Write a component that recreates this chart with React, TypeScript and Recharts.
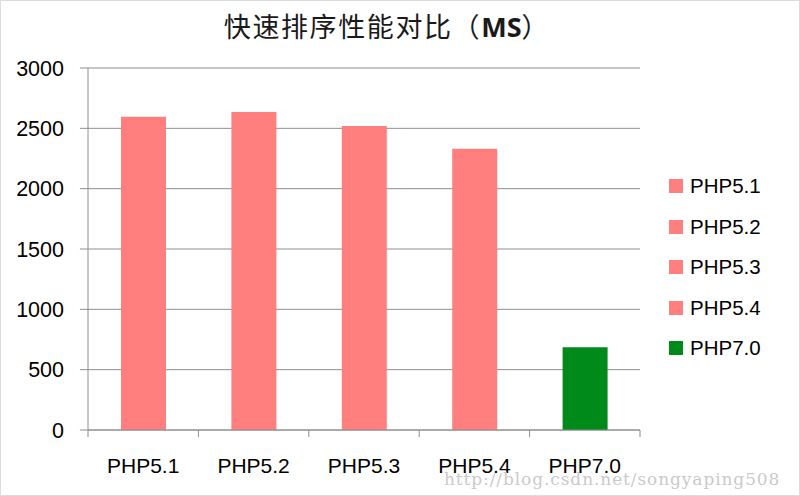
import React from 'react';
import { BarChart, Bar, XAxis, YAxis, CartesianGrid, Legend } from 'recharts';

const categories = ['PHP5.1', 'PHP5.2', 'PHP5.3', 'PHP5.4', 'PHP7.0'];
const values = [2595, 2635, 2520, 2330, 685];
const colors = ['#ff7f7f', '#ff7f7f', '#ff7f7f', '#ff7f7f', '#008a19'];
const yTicks = [0, 500, 1000, 1500, 2000, 2500, 3000];
const title = '快速排序性能对比（';
const titleUnit = 'MS';
const watermark = 'http://blog.csdn.net/songyaping508';

const data = categories.map((c, i) => ({ name: c, [c]: values[i] }));

const FONT = '"Liberation Sans", Arial, sans-serif';
const GRID = '#8e8e8e';

const XTick = (props: any) => {
  const { x, y, payload, width, visibleTicksCount, index } = props;
  const half = width / visibleTicksCount / 2;
  return (
    <g>
      <line x1={x - half} x2={x - half} y1={y} y2={y + 7} stroke={GRID} strokeWidth={1} />
      {index === visibleTicksCount - 1 && (
        <line x1={x + half} x2={x + half} y1={y} y2={y + 7} stroke={GRID} strokeWidth={1} />
      )}
      <text x={x} y={y + 43} textAnchor="middle" fontSize={21} fontFamily={FONT} fill="#000">
        {payload.value}
      </text>
    </g>
  );
};

const LegendContent = (props: any) => {
  const { payload } = props;
  return (
    <div style={{ fontFamily: FONT, fontSize: 20.5, color: '#000' }}>
      {payload.map((p: any) => (
        <div key={p.value} style={{ display: 'flex', alignItems: 'center', height: 40.5 }}>
          <span style={{ display: 'inline-block', width: 14, height: 14, background: p.color, marginRight: 7 }} />
          <span>{p.value}</span>
        </div>
      ))}
    </div>
  );
};

export default function App() {
  return (
    <div style={{ position: 'absolute', left: 0, top: 0, width: 800, height: 496, background: '#fff', overflow: 'hidden' }}>
      <div style={{ position: 'absolute', left: 0, top: 0, width: 798, height: 494, border: '1px solid #dcdcdc' }} />
      <div
        style={{
          position: 'absolute',
          left: 0,
          top: 8,
          width: 774,
          textAlign: 'center',
          fontFamily: '"Noto Sans CJK SC", sans-serif',
          fontSize: 27,
          letterSpacing: 1.6,
          color: '#1a1a1a',
          lineHeight: '36px',
        }}
      >
        {title}
        <span style={{ fontWeight: 'bold', fontFamily: '"Open Sans", sans-serif', letterSpacing: 0 }}>{titleUnit}</span>
        {'）'}
      </div>
      <div style={{ position: 'absolute', left: 0, top: 0 }}>
        <BarChart width={800} height={496} data={data} margin={{ top: 68, right: 160, bottom: 0, left: 0 }} barSize={45}>
          <CartesianGrid horizontal vertical={false} stroke={GRID} strokeWidth={1} />
          <XAxis
            dataKey="name"
            height={66}
            tickSize={0}
            tickMargin={0}
            tickLine={false}
            axisLine={{ stroke: GRID }}
            tick={<XTick />}
            interval={0}
          />
          <YAxis
            width={88}
            domain={[0, 3000]}
            ticks={yTicks}
            interval={0}
            tickSize={8}
            tickMargin={16}
            tickLine={{ stroke: GRID }}
            axisLine={{ stroke: GRID }}
            tick={{ fontSize: 21.5, fontFamily: FONT, fill: '#000' }}
          />
          {categories.map((c, i) => (
            <Bar key={c} dataKey={c} stackId="a" fill={colors[i]} isAnimationActive={false} />
          ))}
          <Legend
            layout="vertical"
            align="center"
            verticalAlign="middle"
            content={<LegendContent />}
            wrapperStyle={{ left: 669, top: 166, width: 125 }}
          />
        </BarChart>
      </div>
      <div
        style={{
          position: 'absolute',
          left: 444,
          top: 470,
          fontFamily: '"DejaVu Serif", serif',
          fontSize: 17,
          lineHeight: '18px',
          letterSpacing: 0.9,
          color: '#cacaca',
          whiteSpace: 'nowrap',
        }}
      >
        {watermark}
      </div>
    </div>
  );
}
